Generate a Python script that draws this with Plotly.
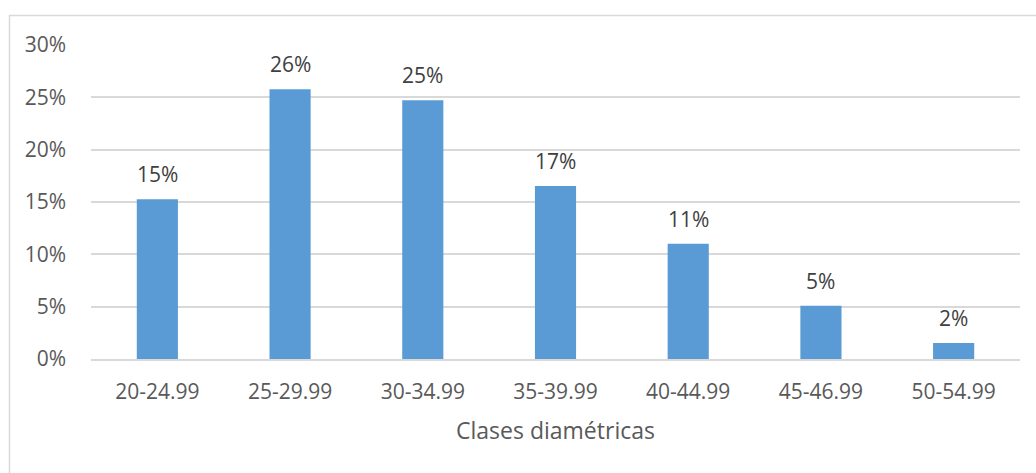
import plotly.graph_objects as go

# Diameter classes and share of trees in each class
clases = ["20-24.99", "25-29.99", "30-34.99", "35-39.99", "40-44.99", "45-46.99", "50-54.99"]
porcentaje = [0.1527, 0.2577, 0.2472, 0.1654, 0.1100, 0.0509, 0.0153]
y_ticks = [0, 0.05, 0.10, 0.15, 0.20, 0.25, 0.30]

FONT = "Open Sans"
TEXT_COLOR = "#595959"
BAR_COLOR = "#5B9BD5"
GRID_COLOR = "#D9D9D9"

fig = go.Figure()
fig.add_trace(go.Bar(
    x=clases,
    y=porcentaje,
    marker=dict(color=BAR_COLOR, line=dict(width=0)),
    width=0.31,
    hovertemplate="%{x}: %{y:.0%}<extra></extra>",
))

# Value labels above each bar
for c, v in zip(clases, porcentaje):
    fig.add_annotation(
        x=c, y=v, xref="x", yref="y",
        text=f"{v:.0%}", showarrow=False,
        yanchor="bottom", yshift=9,
        font=dict(family=FONT, size=21, color="#404040"),
    )

# Chart-area border (left and top edges visible)
fig.add_shape(
    type="rect", xref="paper", yref="paper",
    x0=-81.5 / 929, x1=1.05, y0=-0.40, y1=1 + 29.5 / 314,
    line=dict(color="#D9D9D9", width=1.5), fillcolor="rgba(0,0,0,0)",
    layer="below",
)

fig.update_layout(
    width=1036, height=473,
    margin=dict(l=91, r=16, t=45, b=114),
    paper_bgcolor="white", plot_bgcolor="white",
    showlegend=False,
    font=dict(family=FONT, size=21, color=TEXT_COLOR),
    bargap=0.69,
)
fig.update_xaxes(
    showgrid=False, showline=True, linecolor=GRID_COLOR, linewidth=1.5,
    ticks="", ticklabelstandoff=13,
    tickfont=dict(family=FONT, size=21, color=TEXT_COLOR),
    title=dict(text="Clases diamétricas", standoff=19,
               font=dict(family=FONT, size=23, color=TEXT_COLOR)),
)
fig.update_yaxes(
    range=[0, 0.30], tickvals=y_ticks, tickformat=".0%",
    showgrid=True, gridcolor=GRID_COLOR, gridwidth=1.5,
    zeroline=False, showline=False, ticks="",
    ticklabelstandoff=24,
    tickfont=dict(family=FONT, size=21, color=TEXT_COLOR),
)

fig.write_html("out.html")
